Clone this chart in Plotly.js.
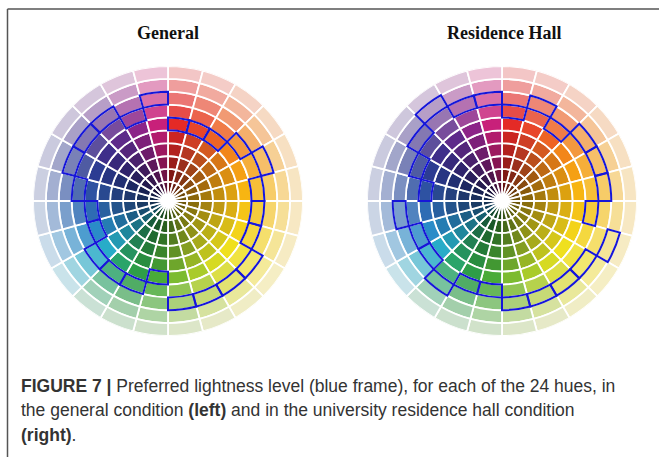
<!DOCTYPE html>
<html><head><meta charset="utf-8">
<script src="https://cdn.plot.ly/plotly-3.0.1.min.js"></script>
<style>html,body{margin:0;padding:0;background:#fff;}#chart{width:659px;height:457px;}</style>
</head><body><div id="chart"></div>
<script>
// 24 hues, clockwise from the top
const hueNames = ["red","red-orange","orange-red","orange","orange 2","yellow-orange","gold","yellow 1","yellow 2","yellow-green 1","yellow-green 2","green-yellow","green 1","green 2","green-teal","cyan","blue-cyan","blue 1","blue 2","dark blue","indigo","purple","violet-magenta","magenta"];
const hueColors = ["#e42a26","#e8462a","#ee6424","#f2861a","#f5a014","#f7b512","#f5c417","#f3d31a","#efe01e","#d6da22","#a9cb2a","#7cbb30","#4aab38","#2e9e48","#2aa46a","#28acc8","#2a8cc8","#2e6cb4","#2e52a2","#2c3c92","#3e2e8a","#5e2a8a","#8c2488","#c8207a"];
// lightness levels, 1 = innermost (darkest) ... 10 = outermost (lightest)
const levels = [1,2,3,4,5,6,7,8,9,10];
// preferred lightness level per hue
const generalPref   = [6,6,6,7,8,7,7,7,8,8,8,8,6,7,7,7,6,6,7,8,8,8,7,8];
const residencePref = [7,8,7,8,8,8,7,9,8,8,8,8,7,7,8,7,7,8,6,7,8,9,8,8];
const titles = ["General","Residence Hall"];

const hueTheta = hueNames.map((_, i) => 7.5 + 15 * i);

function hexToRgb(h){return [parseInt(h.slice(1,3),16),parseInt(h.slice(3,5),16),parseInt(h.slice(5,7),16)];}
function shade(hex, level){
  const c = hexToRgb(hex);
  let out;
  if (level <= 6){
    const t = [0.55, 0.44, 0.33, 0.22, 0.11, 0][level - 1];
    out = c.map(v => Math.round(v * (1 - t)));
  } else {
    const tw = [0, 0.17, 0.38, 0.58, 0.78][level - 6];
    const w = [247, 242, 243];
    out = c.map((v, j) => Math.round(v * (1 - tw) + w[j] * tw));
  }
  return 'rgb(' + out.join(',') + ')';
}

const traces = [];
["polar","polar2"].forEach((sub, si) => {
  levels.forEach(lv => {
    traces.push({
      type: 'barpolar', subplot: sub,
      theta: hueTheta, r: hueTheta.map(() => 1), base: hueTheta.map(() => lv - 0.5),
      width: hueTheta.map(() => 15),
      marker: {color: hueColors.map(c => shade(c, lv)), line: {color: 'white', width: 1.8}},
      hoverinfo: 'skip', showlegend: false
    });
  });
  const pref = si === 0 ? generalPref : residencePref;
  traces.push({
    type: 'barpolar', subplot: sub,
    theta: hueTheta, r: pref.map(() => 1), base: pref.map(p => p - 0.5),
    width: hueTheta.map(() => 15),
    marker: {color: 'rgba(0,0,0,0)', line: {color: '#1616d8', width: 2}},
    hoverinfo: 'skip', showlegend: false
  });
});

const polarCommon = {
  bgcolor: 'white',
  angularaxis: {visible: false, rotation: 90, direction: 'clockwise', showgrid: false},
  radialaxis: {visible: false, range: [0, 10.5], showgrid: false}
};
const W = 659, H = 457;
function dom(cx, cy, r){ return {x: [(cx - r) / W, (cx + r) / W], y: [(H - cy - r) / H, (H - cy + r) / H]}; }

const capFont = {family: 'Liberation Sans, Arial, sans-serif', size: 17.5, color: '#333'};
const titleFont = {family: 'Liberation Serif, Times New Roman, serif', size: 18, color: '#111'};
const layout = {
  width: W, height: H, margin: {l: 0, r: 0, t: 0, b: 0},
  paper_bgcolor: 'white', showlegend: false,
  polar: Object.assign({domain: dom(168, 201, 135)}, JSON.parse(JSON.stringify(polarCommon))),
  polar2: Object.assign({domain: dom(502, 201, 135)}, JSON.parse(JSON.stringify(polarCommon))),
  annotations: [
    {text: '<b>' + titles[0] + '</b>', x: 168 / W, y: 1 - 33 / H, xref: 'paper', yref: 'paper', showarrow: false, xanchor: 'center', yanchor: 'middle', font: titleFont},
    {text: '<b>' + titles[1] + '</b>', x: 504 / W, y: 1 - 33 / H, xref: 'paper', yref: 'paper', showarrow: false, xanchor: 'center', yanchor: 'middle', font: titleFont},
    {text: '<b>FIGURE 7 |</b> Preferred lightness level (blue frame), for each of the 24 hues, in', x: 19 / W, y: 1 - 386 / H, xref: 'paper', yref: 'paper', showarrow: false, xanchor: 'left', yanchor: 'middle', font: capFont},
    {text: 'the general condition <b>(left)</b> and in the university residence hall condition', x: 19 / W, y: 1 - 410 / H, xref: 'paper', yref: 'paper', showarrow: false, xanchor: 'left', yanchor: 'middle', font: capFont},
    {text: '<b>(right)</b>.', x: 19 / W, y: 1 - 435 / H, xref: 'paper', yref: 'paper', showarrow: false, xanchor: 'left', yanchor: 'middle', font: capFont}
  ],
  shapes: [
    {type: 'line', xref: 'paper', yref: 'paper', x0: 7.5 / W, x1: 7.5 / W, y0: 0, y1: 1 - 9 / H, line: {color: '#555', width: 1.5}},
    {type: 'line', xref: 'paper', yref: 'paper', x0: 7.5 / W, x1: 1, y0: 1 - 9 / H, y1: 1 - 9 / H, line: {color: '#555', width: 1.5}}
  ]
};
Plotly.newPlot('chart', traces, layout, {displayModeBar: false, staticPlot: true});
</script>
</body></html>
